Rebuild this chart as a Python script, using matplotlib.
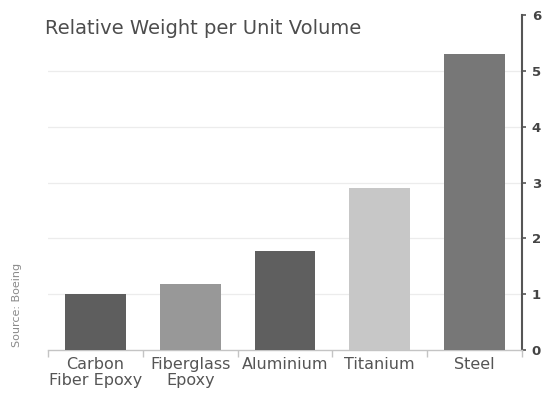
import matplotlib
matplotlib.use("Agg")
import matplotlib.pyplot as plt
from matplotlib.ticker import FixedLocator

categories = ["Carbon\nFiber Epoxy", "Fiberglass\nEpoxy", "Aluminium", "Titanium", "Steel"]
values = [1.0, 1.18, 1.78, 2.9, 5.3]
bar_colors = ["#5e5e5e", "#989898", "#5f5f5f", "#c7c7c7", "#777777"]
y_ticks = [0, 1, 2, 3, 4, 5, 6]

W, H = 545, 394
fig = plt.figure(figsize=(W / 100, H / 100), dpi=100)
ax = fig.add_axes([48 / W, (H - 350) / H, (522 - 48) / W, (350 - 15) / H])

x = list(range(len(categories)))
ax.bar(x, values, width=0.64, color=bar_colors, edgecolor="none", zorder=3)

ax.set_xlim(-0.5, len(categories) - 0.5)
ax.set_ylim(0, 6)

# light horizontal grid for the inner ticks only
for yv in y_ticks[1:-1]:
    ax.axhline(yv, color="#ececec", linewidth=0.9, zorder=0)

# value axis on the right
ax.set_yticks(y_ticks)
ax.yaxis.tick_right()
ax.tick_params(axis="y", which="major", direction="out", length=3, width=1.2,
               color="#555555", labelcolor="#444444", labelsize=9.5, pad=4)
for lbl in ax.get_yticklabels():
    lbl.set_fontweight("bold")

# category axis with boundary ticks
ax.set_xticks(x)
ax.set_xticklabels(categories, fontsize=11.5, color="#555555", linespacing=1.1)
ax.tick_params(axis="x", which="major", length=0, pad=5)
ax.xaxis.set_minor_locator(FixedLocator([i - 0.5 for i in range(len(categories) + 1)]))
ax.tick_params(axis="x", which="minor", length=5, width=1, color="#c4c4c4")

for side in ("top", "left"):
    ax.spines[side].set_visible(False)
ax.spines["right"].set_color("#555555")
ax.spines["right"].set_linewidth(1.5)
ax.spines["bottom"].set_color("#c4c4c4")
ax.spines["bottom"].set_linewidth(1)

fig.text(45 / W, 1 - 28 / H, "Relative Weight per Unit Volume", fontsize=14,
         color="#4d4d4d", ha="left", va="center")
fig.text(17.5 / W, 1 - 305 / H, "Source: Boeing", fontsize=8, color="#8a8a8a",
         rotation=90, ha="center", va="center")

fig.savefig("out.png", dpi=100)
